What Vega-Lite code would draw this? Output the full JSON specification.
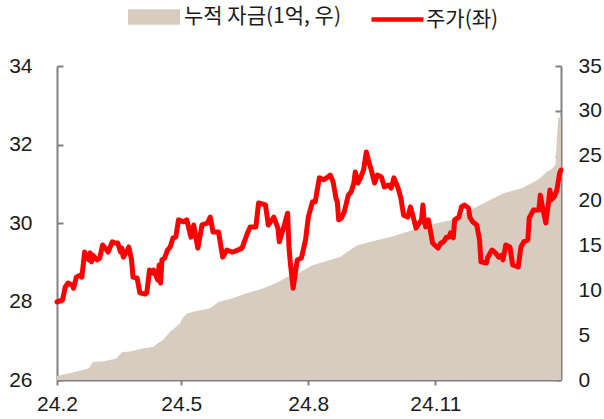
{
  "$schema": "https://vega.github.io/schema/vega-lite/v6.json",
  "width": 504,
  "height": 314,
  "autosize": {"type": "none"},
  "padding": {"left": 57, "top": 66, "right": 43, "bottom": 39},
  "background": "white",
  "config": {
    "view": {"stroke": null},
    "axis": {
      "grid": false,
      "domainColor": "#808080",
      "domainWidth": 2,
      "tickColor": "#808080",
      "tickWidth": 2,
      "labelFont": "Liberation Sans",
      "labelFontSize": 21,
      "labelColor": "#1a1a1a",
      "title": null
    }
  },
  "datasets": {
    "fund": [
      {"date": "2024-02-01", "fund": 0.45},
      {"date": "2024-02-14", "fund": 0.9},
      {"date": "2024-02-24", "fund": 1.3},
      {"date": "2024-02-27", "fund": 2.0},
      {"date": "2024-03-06", "fund": 2.1},
      {"date": "2024-03-15", "fund": 2.4},
      {"date": "2024-03-19", "fund": 3.1},
      {"date": "2024-03-26", "fund": 3.2},
      {"date": "2024-04-03", "fund": 3.5},
      {"date": "2024-04-11", "fund": 3.7},
      {"date": "2024-04-14", "fund": 4.1},
      {"date": "2024-04-18", "fund": 4.5},
      {"date": "2024-04-23", "fund": 5.4},
      {"date": "2024-04-27", "fund": 5.9},
      {"date": "2024-04-30", "fund": 6.3},
      {"date": "2024-05-02", "fund": 6.9},
      {"date": "2024-05-05", "fund": 7.4},
      {"date": "2024-05-12", "fund": 7.7},
      {"date": "2024-05-22", "fund": 8.0},
      {"date": "2024-05-28", "fund": 8.7},
      {"date": "2024-06-07", "fund": 9.1},
      {"date": "2024-06-18", "fund": 9.7},
      {"date": "2024-06-29", "fund": 10.2},
      {"date": "2024-07-10", "fund": 10.9},
      {"date": "2024-07-17", "fund": 11.5},
      {"date": "2024-07-26", "fund": 12.0},
      {"date": "2024-08-04", "fund": 12.8},
      {"date": "2024-08-24", "fund": 13.7},
      {"date": "2024-09-05", "fund": 15.0},
      {"date": "2024-09-15", "fund": 15.4},
      {"date": "2024-09-29", "fund": 15.9},
      {"date": "2024-10-11", "fund": 16.5},
      {"date": "2024-10-28", "fund": 17.3},
      {"date": "2024-11-12", "fund": 17.8},
      {"date": "2024-12-01", "fund": 19.3},
      {"date": "2024-12-11", "fund": 20.1},
      {"date": "2024-12-20", "fund": 20.8},
      {"date": "2025-01-03", "fund": 21.4},
      {"date": "2025-01-14", "fund": 22.3},
      {"date": "2025-01-21", "fund": 23.2},
      {"date": "2025-01-25", "fund": 23.6},
      {"date": "2025-01-27", "fund": 24.0},
      {"date": "2025-01-28", "fund": 26.8},
      {"date": "2025-01-29", "fund": 29.2},
      {"date": "2025-01-31", "fund": 29.3}
    ],
    "price": [
      {"date": "2024-02-01", "price": 27.99},
      {"date": "2024-02-05", "price": 28.04},
      {"date": "2024-02-07", "price": 28.37},
      {"date": "2024-02-09", "price": 28.47},
      {"date": "2024-02-12", "price": 28.42},
      {"date": "2024-02-13", "price": 28.34},
      {"date": "2024-02-15", "price": 28.62},
      {"date": "2024-02-18", "price": 28.68},
      {"date": "2024-02-19", "price": 28.62},
      {"date": "2024-02-21", "price": 29.26},
      {"date": "2024-02-24", "price": 29.06},
      {"date": "2024-02-25", "price": 29.24},
      {"date": "2024-02-26", "price": 29.01},
      {"date": "2024-02-27", "price": 29.18},
      {"date": "2024-03-01", "price": 29.06},
      {"date": "2024-03-03", "price": 29.11},
      {"date": "2024-03-05", "price": 29.44},
      {"date": "2024-03-07", "price": 29.36},
      {"date": "2024-03-09", "price": 29.26},
      {"date": "2024-03-12", "price": 29.52},
      {"date": "2024-03-14", "price": 29.49},
      {"date": "2024-03-16", "price": 29.49},
      {"date": "2024-03-18", "price": 29.26},
      {"date": "2024-03-19", "price": 29.36},
      {"date": "2024-03-20", "price": 29.13},
      {"date": "2024-03-23", "price": 29.31},
      {"date": "2024-03-24", "price": 29.39},
      {"date": "2024-03-26", "price": 29.06},
      {"date": "2024-03-27", "price": 28.62},
      {"date": "2024-03-30", "price": 28.60},
      {"date": "2024-04-01", "price": 28.22},
      {"date": "2024-04-05", "price": 28.19},
      {"date": "2024-04-06", "price": 28.22},
      {"date": "2024-04-08", "price": 28.80},
      {"date": "2024-04-10", "price": 28.73},
      {"date": "2024-04-11", "price": 28.80},
      {"date": "2024-04-14", "price": 28.55},
      {"date": "2024-04-15", "price": 28.93},
      {"date": "2024-04-16", "price": 28.47},
      {"date": "2024-04-17", "price": 29.06},
      {"date": "2024-04-19", "price": 29.11},
      {"date": "2024-04-21", "price": 29.31},
      {"date": "2024-04-23", "price": 29.39},
      {"date": "2024-04-25", "price": 29.62},
      {"date": "2024-04-27", "price": 29.64},
      {"date": "2024-04-29", "price": 30.08},
      {"date": "2024-05-03", "price": 30.03},
      {"date": "2024-05-05", "price": 30.08},
      {"date": "2024-05-08", "price": 29.64},
      {"date": "2024-05-10", "price": 29.95},
      {"date": "2024-05-13", "price": 29.36},
      {"date": "2024-05-16", "price": 29.95},
      {"date": "2024-05-20", "price": 30.00},
      {"date": "2024-05-22", "price": 30.15},
      {"date": "2024-05-24", "price": 29.77},
      {"date": "2024-05-28", "price": 29.77},
      {"date": "2024-05-31", "price": 29.13},
      {"date": "2024-06-03", "price": 29.31},
      {"date": "2024-06-07", "price": 29.26},
      {"date": "2024-06-11", "price": 29.31},
      {"date": "2024-06-14", "price": 29.36},
      {"date": "2024-06-18", "price": 29.75},
      {"date": "2024-06-20", "price": 29.90},
      {"date": "2024-06-24", "price": 29.90},
      {"date": "2024-06-26", "price": 30.51},
      {"date": "2024-07-01", "price": 30.46},
      {"date": "2024-07-03", "price": 29.95},
      {"date": "2024-07-07", "price": 30.15},
      {"date": "2024-07-10", "price": 29.87},
      {"date": "2024-07-11", "price": 29.52},
      {"date": "2024-07-14", "price": 29.87},
      {"date": "2024-07-17", "price": 30.25},
      {"date": "2024-07-18", "price": 29.39},
      {"date": "2024-07-19", "price": 28.98},
      {"date": "2024-07-21", "price": 28.34},
      {"date": "2024-07-24", "price": 29.06},
      {"date": "2024-07-27", "price": 29.11},
      {"date": "2024-07-30", "price": 29.57},
      {"date": "2024-08-01", "price": 30.15},
      {"date": "2024-08-04", "price": 30.54},
      {"date": "2024-08-06", "price": 30.54},
      {"date": "2024-08-09", "price": 31.15},
      {"date": "2024-08-12", "price": 31.10},
      {"date": "2024-08-15", "price": 31.17},
      {"date": "2024-08-17", "price": 31.22},
      {"date": "2024-08-19", "price": 31.04},
      {"date": "2024-08-21", "price": 30.64},
      {"date": "2024-08-22", "price": 30.54},
      {"date": "2024-08-23", "price": 30.08},
      {"date": "2024-08-25", "price": 30.13},
      {"date": "2024-08-27", "price": 30.28},
      {"date": "2024-08-30", "price": 30.71},
      {"date": "2024-09-01", "price": 30.79},
      {"date": "2024-09-03", "price": 31.02},
      {"date": "2024-09-04", "price": 31.30},
      {"date": "2024-09-06", "price": 31.02},
      {"date": "2024-09-08", "price": 31.17},
      {"date": "2024-09-10", "price": 31.35},
      {"date": "2024-09-12", "price": 31.81},
      {"date": "2024-09-14", "price": 31.53},
      {"date": "2024-09-15", "price": 31.43},
      {"date": "2024-09-18", "price": 31.02},
      {"date": "2024-09-20", "price": 31.22},
      {"date": "2024-09-23", "price": 31.17},
      {"date": "2024-09-25", "price": 30.92},
      {"date": "2024-09-28", "price": 30.97},
      {"date": "2024-09-30", "price": 30.89},
      {"date": "2024-10-02", "price": 31.15},
      {"date": "2024-10-05", "price": 30.89},
      {"date": "2024-10-07", "price": 30.64},
      {"date": "2024-10-09", "price": 30.20},
      {"date": "2024-10-12", "price": 30.15},
      {"date": "2024-10-14", "price": 30.41},
      {"date": "2024-10-16", "price": 30.15},
      {"date": "2024-10-18", "price": 29.87},
      {"date": "2024-10-22", "price": 30.08},
      {"date": "2024-10-23", "price": 30.46},
      {"date": "2024-10-24", "price": 30.03},
      {"date": "2024-10-25", "price": 29.90},
      {"date": "2024-10-27", "price": 30.08},
      {"date": "2024-10-30", "price": 29.49},
      {"date": "2024-11-03", "price": 29.36},
      {"date": "2024-11-05", "price": 29.49},
      {"date": "2024-11-07", "price": 29.52},
      {"date": "2024-11-09", "price": 29.64},
      {"date": "2024-11-11", "price": 29.64},
      {"date": "2024-11-12", "price": 29.75},
      {"date": "2024-11-14", "price": 29.62},
      {"date": "2024-11-15", "price": 30.08},
      {"date": "2024-11-18", "price": 30.15},
      {"date": "2024-11-20", "price": 30.41},
      {"date": "2024-11-22", "price": 30.46},
      {"date": "2024-11-25", "price": 30.38},
      {"date": "2024-11-26", "price": 30.15},
      {"date": "2024-11-28", "price": 30.03},
      {"date": "2024-12-01", "price": 29.95},
      {"date": "2024-12-03", "price": 29.57},
      {"date": "2024-12-04", "price": 29.01},
      {"date": "2024-12-08", "price": 28.98},
      {"date": "2024-12-09", "price": 29.13},
      {"date": "2024-12-12", "price": 29.31},
      {"date": "2024-12-14", "price": 29.26},
      {"date": "2024-12-17", "price": 29.13},
      {"date": "2024-12-19", "price": 29.18},
      {"date": "2024-12-20", "price": 29.06},
      {"date": "2024-12-22", "price": 29.44},
      {"date": "2024-12-25", "price": 29.39},
      {"date": "2024-12-27", "price": 28.93},
      {"date": "2024-12-31", "price": 28.88},
      {"date": "2025-01-02", "price": 29.39},
      {"date": "2025-01-04", "price": 29.52},
      {"date": "2025-01-07", "price": 29.57},
      {"date": "2025-01-08", "price": 30.13},
      {"date": "2025-01-11", "price": 30.33},
      {"date": "2025-01-15", "price": 30.33},
      {"date": "2025-01-16", "price": 30.71},
      {"date": "2025-01-18", "price": 30.33},
      {"date": "2025-01-20", "price": 30.00},
      {"date": "2025-01-22", "price": 30.54},
      {"date": "2025-01-23", "price": 30.84},
      {"date": "2025-01-24", "price": 30.59},
      {"date": "2025-01-26", "price": 30.66},
      {"date": "2025-01-28", "price": 30.84},
      {"date": "2025-01-30", "price": 31.27},
      {"date": "2025-01-31", "price": 31.35}
    ]
  },
  "layer": [
    {
      "data": {"name": "fund"},
      "mark": {"type": "area", "interpolate": "linear", "opacity": 1},
      "encoding": {
        "x": {
          "field": "date",
          "type": "temporal",
          "scale": {
            "type": "utc",
            "domain": [
              {"year": 2024, "month": 2, "date": 1, "utc": true},
              {"year": 2025, "month": 1, "date": 31, "utc": true}
            ]
          },
          "axis": {
            "values": [
              {"year": 2024, "month": 2, "date": 1, "utc": true},
              {"year": 2024, "month": 5, "date": 1, "utc": true},
              {"year": 2024, "month": 8, "date": 1, "utc": true},
              {"year": 2024, "month": 11, "date": 1, "utc": true}
            ],
            "labelExpr": "utcFormat(datum.value, '%y') + '.' + (utcmonth(datum.value) + 1)",
            "tickSize": 5,
            "labelPadding": 8,
            "labelFlush": false,
            "labelOverlap": false
          }
        },
        "y": {
          "field": "fund",
          "type": "quantitative",
          "scale": {"domain": [0, 35], "nice": false, "zero": true},
          "axis": {
            "orient": "right",
            "values": [0, 5, 10, 15, 20, 25, 30, 35],
            "tickSize": -6,
            "labelPadding": 23
          }
        },
        "fill": {
          "datum": "누적 자금(1억, 우)",
          "type": "nominal",
          "scale": {"range": ["#d8ccc0"]},
          "legend": {
            "orient": "none",
            "legendX": 71,
            "legendY": -75,
            "title": null,
            "padding": 0,
            "symbolType": "M-1,-0.3H1V0.3H-1Z",
            "symbolSize": 2704,
            "symbolStrokeWidth": 0,
            "symbolOpacity": 1,
            "labelFont": "Noto Sans CJK KR",
            "labelFontSize": 21,
            "labelColor": "#1a1a1a",
            "labelOffset": 4
          }
        }
      }
    },
    {
      "data": {"name": "price"},
      "mark": {"type": "line", "strokeWidth": 5, "strokeJoin": "round", "strokeCap": "round"},
      "encoding": {
        "x": {"field": "date", "type": "temporal"},
        "y": {
          "field": "price",
          "type": "quantitative",
          "scale": {"domain": [26, 34], "nice": false, "zero": false},
          "axis": {
            "orient": "left",
            "values": [26, 28, 30, 32, 34],
            "tickSize": -6,
            "labelPadding": 31
          }
        },
        "stroke": {
          "datum": "주가(좌)",
          "type": "nominal",
          "scale": {"range": ["#ff0000"]},
          "legend": {
            "orient": "none",
            "legendX": 312,
            "legendY": -75,
            "title": null,
            "padding": 0,
            "symbolType": "stroke",
            "symbolSize": 2704,
            "symbolStrokeWidth": 4.5,
            "labelFont": "Noto Sans CJK KR",
            "labelFontSize": 21,
            "labelColor": "#1a1a1a",
            "labelOffset": 0
          }
        }
      }
    }
  ],
  "resolve": {"scale": {"y": "independent"}}
}
